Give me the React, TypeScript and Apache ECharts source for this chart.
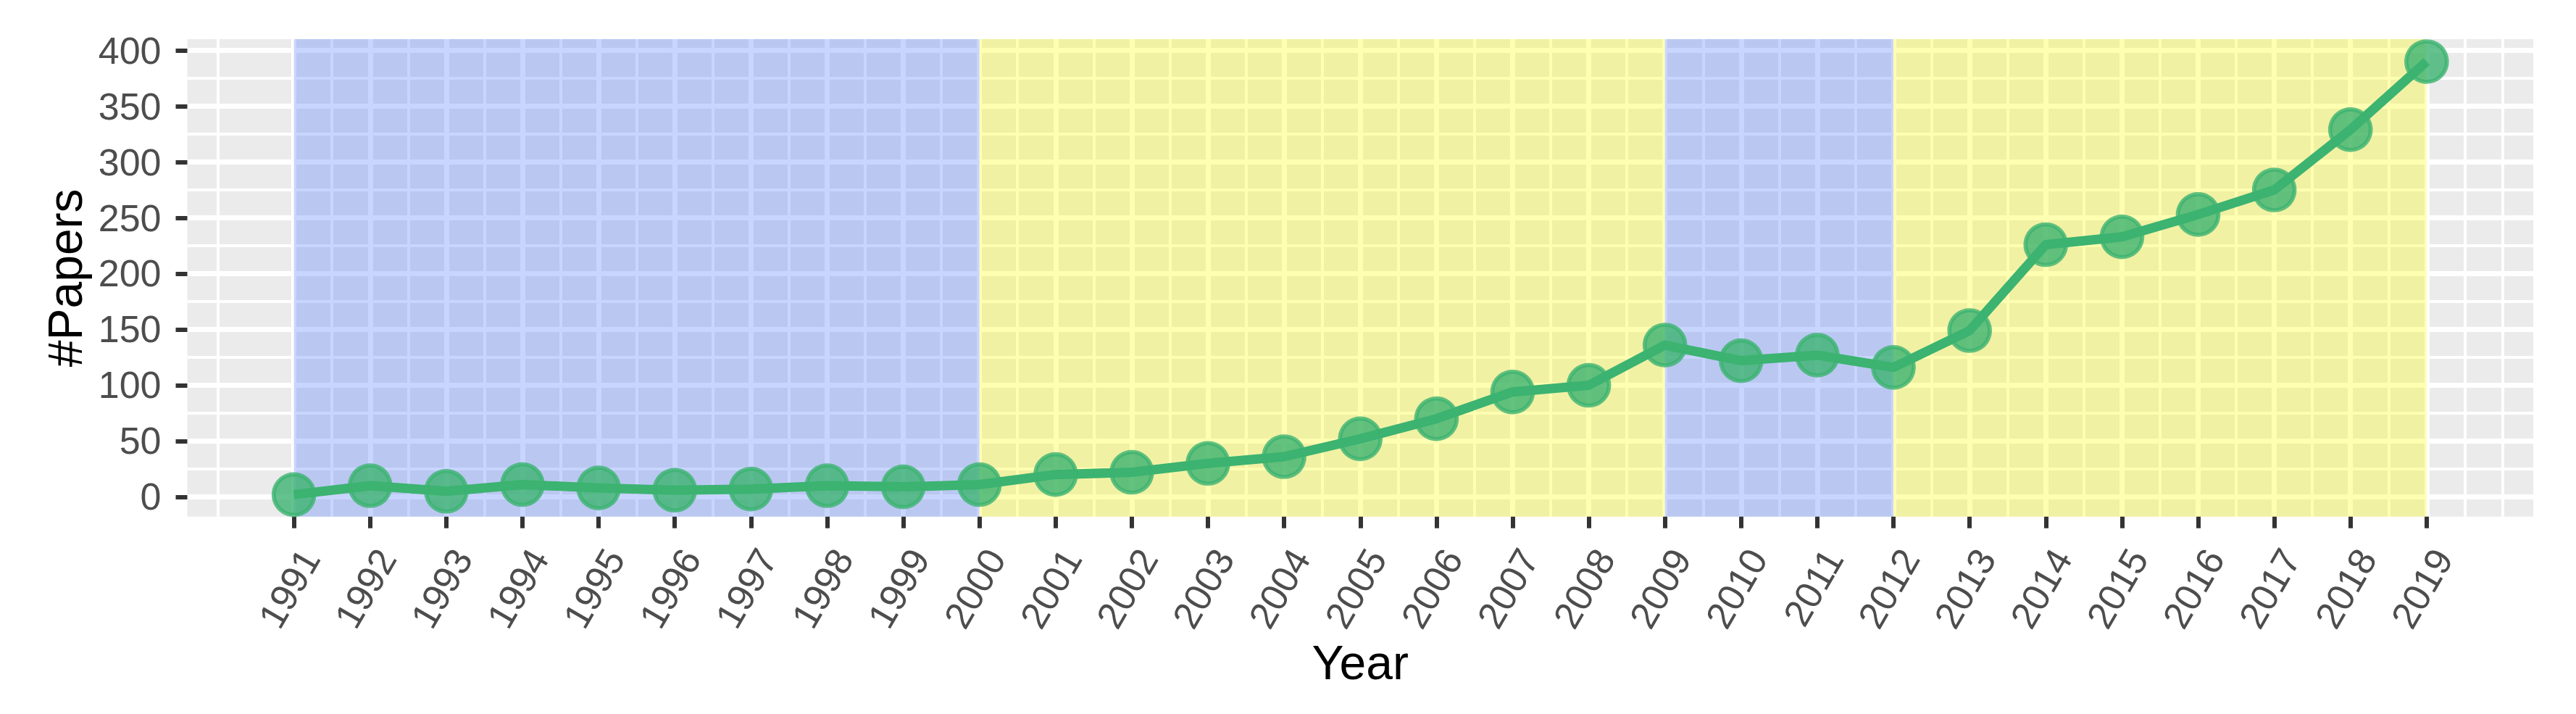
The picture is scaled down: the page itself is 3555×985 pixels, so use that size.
import React, { useEffect, useRef } from "react";
import * as echarts from "echarts";

// ---- data ----
const years = [
  1991, 1992, 1993, 1994, 1995, 1996, 1997, 1998, 1999, 2000,
  2001, 2002, 2003, 2004, 2005, 2006, 2007, 2008, 2009, 2010,
  2011, 2012, 2013, 2014, 2015, 2016, 2017, 2018, 2019,
];
const papers = [
  2, 10, 5, 11, 8, 6, 7, 10, 9, 11,
  20, 22, 30, 36, 52, 70, 94, 100, 136, 122,
  127, 116, 149, 226, 233, 253, 275, 329, 390,
];

// y tick labels and grid lines
const yMajorTicks = [0, 50, 100, 150, 200, 250, 300, 350, 400];
const yMinorLines = [25, 75, 125, 175, 225, 275, 325, 375];
// x grid: majors at every labelled year, minors halfway and one step outside
const xMinorLines = [1990, ...years.map((y) => y + 0.5), 2020];

// shaded periods
const periodStarts = [1991, 2000, 2009, 2012];
const periodEnds = [2000, 2009, 2012, 2019];
const periodFills = [
  "rgba(72,118,255,0.3)",
  "rgba(255,255,0,0.3)",
  "rgba(72,118,255,0.3)",
  "rgba(255,255,0,0.3)",
];

// axis limits (ggplot-style 5% expansion)
const xMin = 1989.6;
const xMax = 2020.4;
const yMin = -17.7;
const yMax = 410.1;

const FONT = "'Liberation Sans', Arial, Helvetica, sans-serif";

export default function App() {
  const ref = useRef<HTMLDivElement>(null);

  useEffect(() => {
    if (!ref.current) return;
    const chart = echarts.init(ref.current, undefined, { renderer: "svg" });

    const points = years.map((y, i) => [y, papers[i]]);

    const minorSplit = { show: true, lineStyle: { color: "#FFFFFF", width: 4 } };
    const majorSplit = { show: true, lineStyle: { color: "#FFFFFF", width: 7 } };

    chart.setOption({
      animation: false,
      textStyle: { fontFamily: FONT },
      grid: {
        left: 258.5,
        top: 54,
        right: 59,
        bottom: 272.3,
        show: true,
        backgroundColor: "#EBEBEB",
        borderWidth: 0,
        containLabel: false,
        outerBoundsMode: "none",
      },
      xAxis: [
        {
          type: "value",
          min: xMin,
          max: xMax,
          position: "bottom",
          axisLine: { show: false, onZero: false },
          axisTick: { show: false, customValues: xMinorLines },
          axisLabel: { show: false },
          splitLine: minorSplit,
        },
        {
          type: "value",
          min: xMin,
          max: xMax,
          position: "bottom",
          offset: 0,
          axisLine: { show: false, onZero: false },
          axisTick: {
            show: true,
            customValues: years,
            length: 16,
            lineStyle: { color: "#333333", width: 6 },
          },
          axisLabel: {
            show: true,
            customValues: years,
            formatter: (v: number) => String(Math.round(v)),
            rotate: 60,
            align: "right",
            verticalAlign: "top",
            margin: 36,
            fontSize: 52,
            color: "#4D4D4D",
            fontFamily: FONT,
          },
          splitLine: majorSplit,
          name: "Year",
          nameLocation: "middle",
          nameGap: 168,
          nameMoveOverlap: false,
          nameTextStyle: { fontSize: 66, color: "#000000", fontFamily: FONT },
        },
      ],
      yAxis: [
        {
          type: "value",
          min: yMin,
          max: yMax,
          position: "left",
          axisLine: { show: false, onZero: false },
          axisTick: { show: false, customValues: yMinorLines },
          axisLabel: { show: false },
          splitLine: minorSplit,
        },
        {
          type: "value",
          min: yMin,
          max: yMax,
          position: "left",
          offset: 0,
          axisLine: { show: false, onZero: false },
          axisTick: {
            show: true,
            customValues: yMajorTicks,
            length: 16,
            lineStyle: { color: "#333333", width: 6 },
          },
          axisLabel: {
            show: true,
            customValues: yMajorTicks,
            formatter: (v: number) => String(Math.round(v)),
            margin: 36,
            fontSize: 52,
            color: "#4D4D4D",
            fontFamily: FONT,
          },
          splitLine: majorSplit,
          name: "#Papers",
          nameLocation: "middle",
          nameRotate: 90,
          nameGap: 136,
          nameMoveOverlap: false,
          nameTextStyle: { fontSize: 66, color: "#000000", fontFamily: FONT },
        },
      ],
      series: [
        {
          type: "line",
          xAxisIndex: 1,
          yAxisIndex: 1,
          data: points,
          symbol: "none",
          lineStyle: { opacity: 0, width: 0 },
          silent: true,
          z: 1,
          markArea: {
            silent: true,
            data: periodStarts.map((s, i) => [
              { xAxis: s, itemStyle: { color: periodFills[i], borderWidth: 0 } },
              { xAxis: periodEnds[i] },
            ]),
          },
        },
        {
          type: "line",
          xAxisIndex: 1,
          yAxisIndex: 1,
          data: points,
          z: 3,
          silent: true,
          symbol: "circle",
          symbolSize: 56,
          lineStyle: { color: "#3CB371", width: 13, join: "round", cap: "butt" },
          itemStyle: {
            color: "rgba(60,179,113,0.8)",
            borderColor: "rgba(60,179,113,0.8)",
            borderWidth: 5.6,
          },
          emphasis: { disabled: true },
        },
      ],
    });

    return () => chart.dispose();
  }, []);

  return (
    <div
      ref={ref}
      style={{ position: "fixed", left: 0, top: 0, width: 3555, height: 985, background: "#FFFFFF" }}
    />
  );
}
